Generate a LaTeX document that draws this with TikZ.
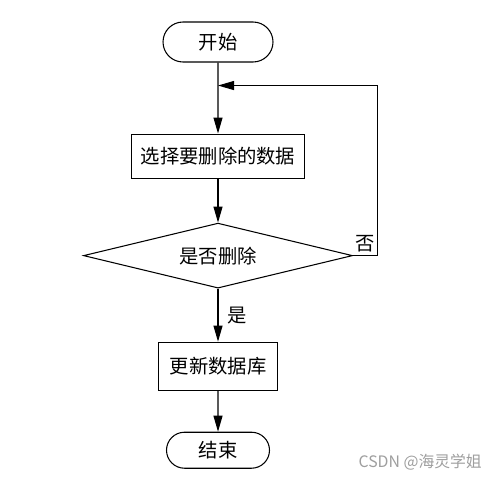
\documentclass[tikz,border=0pt]{standalone}
\usepackage{fontspec}
\setmainfont{Noto Sans CJK SC}
\usetikzlibrary{positioning, shapes.geometric, shapes.misc, arrows.meta}

\begin{document}
\begin{tikzpicture}[
  terminal/.style={rounded rectangle, draw, line width=0.6pt, inner sep=0pt},
  process/.style={rectangle, draw, line width=0.6pt, inner sep=0pt},
  decision/.style={diamond, draw, line width=0.6pt, inner sep=0pt, aspect=4},
  flow/.style={line width=0.6pt, -{Triangle[length=0.32cm, width=0.18cm]}},
  every node/.style={font=\fontsize{11}{13}\selectfont},
]
\useasboundingbox (0,0) rectangle (10,-9.56);

%%% Nodes
\node[terminal, minimum width=2.2cm, minimum height=0.8cm] (start) at (4.36,-0.84) {开始};
\node[process, minimum width=3.46cm, minimum height=0.88cm] (select) [below=1.42cm of start] {选择要删除的数据};
\node[decision, minimum width=5.38cm, minimum height=1.3cm] (decide) [below=0.88cm of select] {是否删除};
\node[process, minimum width=2.38cm, minimum height=0.96cm] (update) [below=1.06cm of decide] {更新数据库};
\node[terminal, minimum width=2.06cm, minimum height=0.72cm] (stop) [below=0.82cm of update] {结束};
\coordinate[below=0.46cm of start.south] (merge);

%%% Edges
\draw[flow] (start) -- (select);
\draw[flow] (select) -- (decide);
\draw[flow] (decide) -- node[right=2pt] {是} (update);
\draw[flow] (update) -- (stop);
\draw[flow] (decide.east) -- ++(0.48,0) |- (merge);
\node[anchor=south west, inner sep=1pt] (no) at ([yshift=1pt]decide.east) {否};

%%% Watermark
\node[anchor=east, text=black!38, font=\fontsize{9}{11}\selectfont] (mark) at (9.76,-9.24) {CSDN @海灵学姐};

\end{tikzpicture}
\end{document}
